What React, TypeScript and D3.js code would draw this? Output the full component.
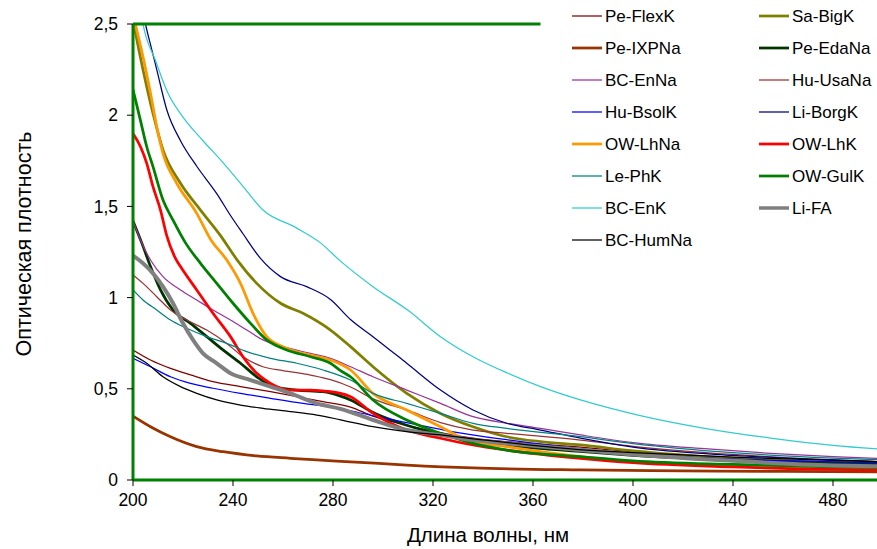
import React from "react";
import * as d3 from "d3";

type P = [number, number];

const peFlexK: P[] = [[200,0.713],[207,0.658],[215,0.612],[223,0.576],[232,0.539],[243,0.512],[255,0.484],[265.5,0.457],[276,0.43],[287,0.4],[296,0.35],[309.5,0.3],[323,0.26],[336,0.23],[350,0.21],[379,0.18],[400,0.155],[440,0.12],[480,0.1],[500,0.095]];
const saBigK: P[] = [[200,2.52],[204,2.25],[208,2.01],[212,1.81],[219,1.627],[227,1.48],[235,1.34],[242,1.2],[249.5,1.078],[259,0.969],[268,0.914],[279,0.822],[287,0.731],[296,0.621],[309.5,0.475],[323,0.365],[336,0.292],[349.5,0.237],[363,0.21],[379,0.192],[400,0.16],[440,0.12],[480,0.095],[500,0.088]];
const peIXPNa: P[] = [[200,0.35],[207,0.292],[215,0.237],[225.5,0.183],[236,0.155],[249.5,0.132],[263,0.119],[273.5,0.11],[287,0.1],[309.5,0.082],[336,0.066],[379,0.055],[420,0.05],[460,0.047],[500,0.045]];
const peEdaNa: P[] = [[200,1.42],[203.5,1.3],[207,1.17],[211,1.042],[216,0.932],[223,0.859],[229.5,0.786],[236,0.713],[243,0.64],[249.5,0.566],[256,0.512],[265.5,0.493],[276,0.484],[283,0.46],[287,0.439],[296,0.37],[309.5,0.3],[323,0.25],[336,0.215],[350,0.19],[380,0.155],[400,0.135],[440,0.11],[480,0.093],[500,0.088]];
const bcEnNa: P[] = [[200,1.42],[203,1.316],[207,1.206],[212,1.115],[219,1.042],[225.5,0.987],[232,0.932],[239,0.877],[245.5,0.822],[252,0.768],[260,0.731],[271,0.694],[279,0.667],[287,0.621],[296,0.566],[309.5,0.493],[323,0.42],[336,0.347],[349.5,0.311],[363,0.283],[379,0.247],[400,0.205],[430,0.17],[455,0.146],[480,0.128],[500,0.118]];
const huUsaNa: P[] = [[200,1.124],[204,1.078],[209.5,1.005],[215,0.932],[221.5,0.877],[229.5,0.822],[237.5,0.749],[244,0.676],[252,0.621],[260,0.6],[271,0.575],[279,0.55],[287,0.51],[296,0.445],[309.5,0.384],[323,0.315],[336,0.274],[349.5,0.256],[379,0.219],[400,0.185],[440,0.14],[480,0.11],[500,0.1]];
const huBsolK: P[] = [[200,0.667],[207,0.621],[215,0.566],[223,0.53],[232,0.503],[243,0.475],[255,0.448],[268,0.42],[279,0.4],[290,0.37],[300,0.34],[315,0.3],[330,0.26],[350,0.22],[380,0.17],[400,0.145],[440,0.115],[480,0.1],[500,0.095]];
const liBorgK: P[] = [[200,2.9],[205,2.5],[207.5,2.36],[209.5,2.25],[213.5,2.03],[219,1.86],[225.5,1.72],[233.5,1.57],[239,1.45],[244,1.35],[251,1.215],[259,1.115],[269.5,1.06],[279,0.99],[287,0.88],[296,0.786],[309.5,0.64],[323,0.493],[336,0.384],[349.5,0.311],[363,0.274],[379,0.229],[400,0.18],[440,0.135],[480,0.11],[500,0.1]];
const owLhNa: P[] = [[200,2.55],[204,2.32],[207,2.12],[209.5,1.937],[212,1.79],[217.5,1.627],[225.5,1.462],[231,1.32],[237.5,1.206],[243,1.078],[248,0.914],[253.5,0.786],[260,0.731],[268,0.694],[279,0.658],[287,0.603],[296,0.475],[309.5,0.384],[323,0.292],[333.5,0.22],[349.5,0.183],[379,0.128],[400,0.1],[440,0.08],[480,0.065],[500,0.06]];
const owLhK: P[] = [[200,1.9],[203,1.827],[205.5,1.736],[208,1.608],[211,1.48],[213.5,1.34],[217,1.215],[219,1.17],[225.5,1.042],[232,0.914],[239,0.786],[244,0.676],[249.5,0.585],[255,0.53],[263,0.493],[271,0.493],[279,0.484],[283,0.475],[287,0.457],[296,0.365],[309.5,0.274],[323,0.229],[336,0.192],[349.5,0.164],[379,0.119],[400,0.095],[440,0.072],[480,0.058],[500,0.055]];
const lePhK: P[] = [[200,1.042],[204,0.987],[209.5,0.932],[215,0.877],[221.5,0.832],[229.5,0.786],[237.5,0.749],[245.5,0.704],[255,0.667],[265.5,0.64],[276,0.603],[287,0.548],[296,0.475],[309.5,0.42],[323,0.365],[336,0.311],[349.5,0.283],[379,0.238],[400,0.2],[440,0.15],[480,0.12],[500,0.11]];
const owGulK: P[] = [[200,2.14],[203,1.97],[205.5,1.827],[208,1.718],[212,1.535],[216,1.425],[221,1.3],[227,1.188],[233.5,1.078],[240,0.969],[247,0.859],[253.5,0.768],[261.5,0.713],[271,0.676],[279,0.64],[283,0.6],[287,0.566],[296,0.439],[309.5,0.329],[323,0.256],[336,0.201],[349.5,0.164],[379,0.128],[400,0.105],[440,0.085],[480,0.072],[500,0.068]];
const bcEnK: P[] = [[200,2.9],[204,2.5],[209,2.3],[214,2.12],[220,1.99],[228,1.86],[236,1.74],[244,1.61],[252,1.48],[265,1.385],[275,1.3],[283,1.2],[296,1.06],[310,0.93],[323,0.786],[336,0.676],[350,0.585],[363,0.512],[379,0.439],[402,0.356],[428,0.285],[455,0.23],[480,0.19],[500,0.168]];
const liFA: P[] = [[200,1.23],[204,1.188],[208,1.133],[212,1.06],[216,0.969],[220,0.859],[224,0.768],[228,0.694],[233.5,0.64],[239,0.585],[247,0.548],[255,0.512],[263,0.475],[273.5,0.42],[283,0.39],[296,0.329],[309.5,0.274],[323,0.247],[336,0.219],[349.5,0.201],[379,0.165],[400,0.14],[440,0.105],[480,0.08],[500,0.075]];
const bcHumNa: P[] = [[200,0.685],[205.5,0.64],[212,0.566],[219,0.512],[225.5,0.475],[233.5,0.439],[243,0.411],[252,0.393],[263,0.375],[273.5,0.356],[283,0.33],[296,0.292],[309.5,0.265],[323,0.247],[340,0.22],[360,0.19],[380,0.165],[400,0.15],[440,0.125],[480,0.108],[500,0.1]];
const topLine: P[] = [[200,2.5],[363,2.5]];

const seriesNames = ["Pe-FlexK","Sa-BigK","Pe-IXPNa","Pe-EdaNa","BC-EnNa","Hu-UsaNa","Hu-BsolK","Li-BorgK","OW-LhNa","OW-LhK","Le-PhK","OW-GulK","BC-EnK","Li-FA","BC-HumNa"];
const seriesData = [peFlexK,saBigK,peIXPNa,peEdaNa,bcEnNa,huUsaNa,huBsolK,liBorgK,owLhNa,owLhK,lePhK,owGulK,bcEnK,liFA,bcHumNa];
const seriesColors = ["#800000","#808000","#993300","#003300","#993399","#993333","#0000ff","#000080","#ff9900","#ff0000","#008080","#008000","#33cccc","#808080","#000000"];
const seriesWidths = [1.25,2.75,2.75,2.75,1.25,1.25,1.25,1.25,2.75,2.75,1.25,2.75,1.25,4,1.25];

const xTicks = [200,240,280,320,360,400,440,480];
const yTicks = [0,0.5,1,1.5,2,2.5];
const yTickLabels = ["0","0,5","1","1,5","2","2,5"];

export default function App() {
  const W = 877, H = 549;
  const x = d3.scaleLinear().domain([200, 500]).range([133, 883]);
  const y = d3.scaleLinear().domain([0, 2.5]).range([480, 24]);
  const line = d3.line<P>().x(d => x(d[0])).y(d => y(d[1])).curve(d3.curveMonotoneX);
  const font = "'Liberation Sans', Arial, sans-serif";

  const legendRowY = (i: number) => 16 + Math.floor(i / 2) * 32;
  const legendColX = (i: number) => (i % 2 === 0 ? 572 : 759);

  return (
    <svg width={W} height={H} style={{ position: "absolute", left: 0, top: 0, background: "#fff" }} fontFamily={font}>
      <defs>
        <clipPath id="plotClip">
          <rect x={133} y={y(2.5)} width={750} height={y(0) - y(2.5)} />
        </clipPath>
      </defs>
      <rect x={0} y={0} width={W} height={H} fill="#fff" />
      <g clipPath="url(#plotClip)">
        {seriesData.map((d, i) => (
          <path key={seriesNames[i]} d={line(d) || ""} fill="none" stroke={seriesColors[i]} strokeWidth={seriesWidths[i]} strokeLinejoin="round" strokeLinecap="round" />
        ))}
      </g>
      <path d={line(topLine) || ""} fill="none" stroke="#008000" strokeWidth={3} />
      <line x1={x(200)} x2={x(200)} y1={y(2.5)} y2={y(0)} stroke="#008000" strokeWidth={3} />
      <line x1={x(200)} x2={W} y1={y(0)} y2={y(0)} stroke="#008000" strokeWidth={3} />
      {yTicks.map((t, i) => (
        <g key={"y" + t}>
          <line x1={x(200) - 6} x2={x(200)} y1={y(t)} y2={y(t)} stroke="#000" strokeWidth={1} />
          <text x={118} y={y(t)} dy="0.35em" textAnchor="end" fontSize={17.5} fill="#000">{yTickLabels[i]}</text>
        </g>
      ))}
      {xTicks.map(t => (
        <g key={"x" + t}>
          <line x1={x(t)} x2={x(t)} y1={y(0)} y2={y(0) + 6} stroke="#000" strokeWidth={1} />
          <text x={x(t)} y={y(0) + 26} textAnchor="middle" fontSize={17.5} fill="#000">{t}</text>
        </g>
      ))}
      <text x={488} y={542} textAnchor="middle" fontSize={20.5} fill="#000">Длина волны, нм</text>
      <text transform="translate(31,244) rotate(-90)" textAnchor="middle" fontSize={21.5} fill="#000">Оптическая плотность</text>
      {seriesNames.map((n, i) => (
        <g key={"lg" + n}>
          <line x1={legendColX(i)} x2={legendColX(i) + 30} y1={legendRowY(i)} y2={legendRowY(i)} stroke={seriesColors[i]} strokeWidth={Math.min(seriesWidths[i], 3.5)} />
          <text x={legendColX(i) + 33} y={legendRowY(i)} dy="0.35em" fontSize={17} fill="#000">{n}</text>
        </g>
      ))}
    </svg>
  );
}
